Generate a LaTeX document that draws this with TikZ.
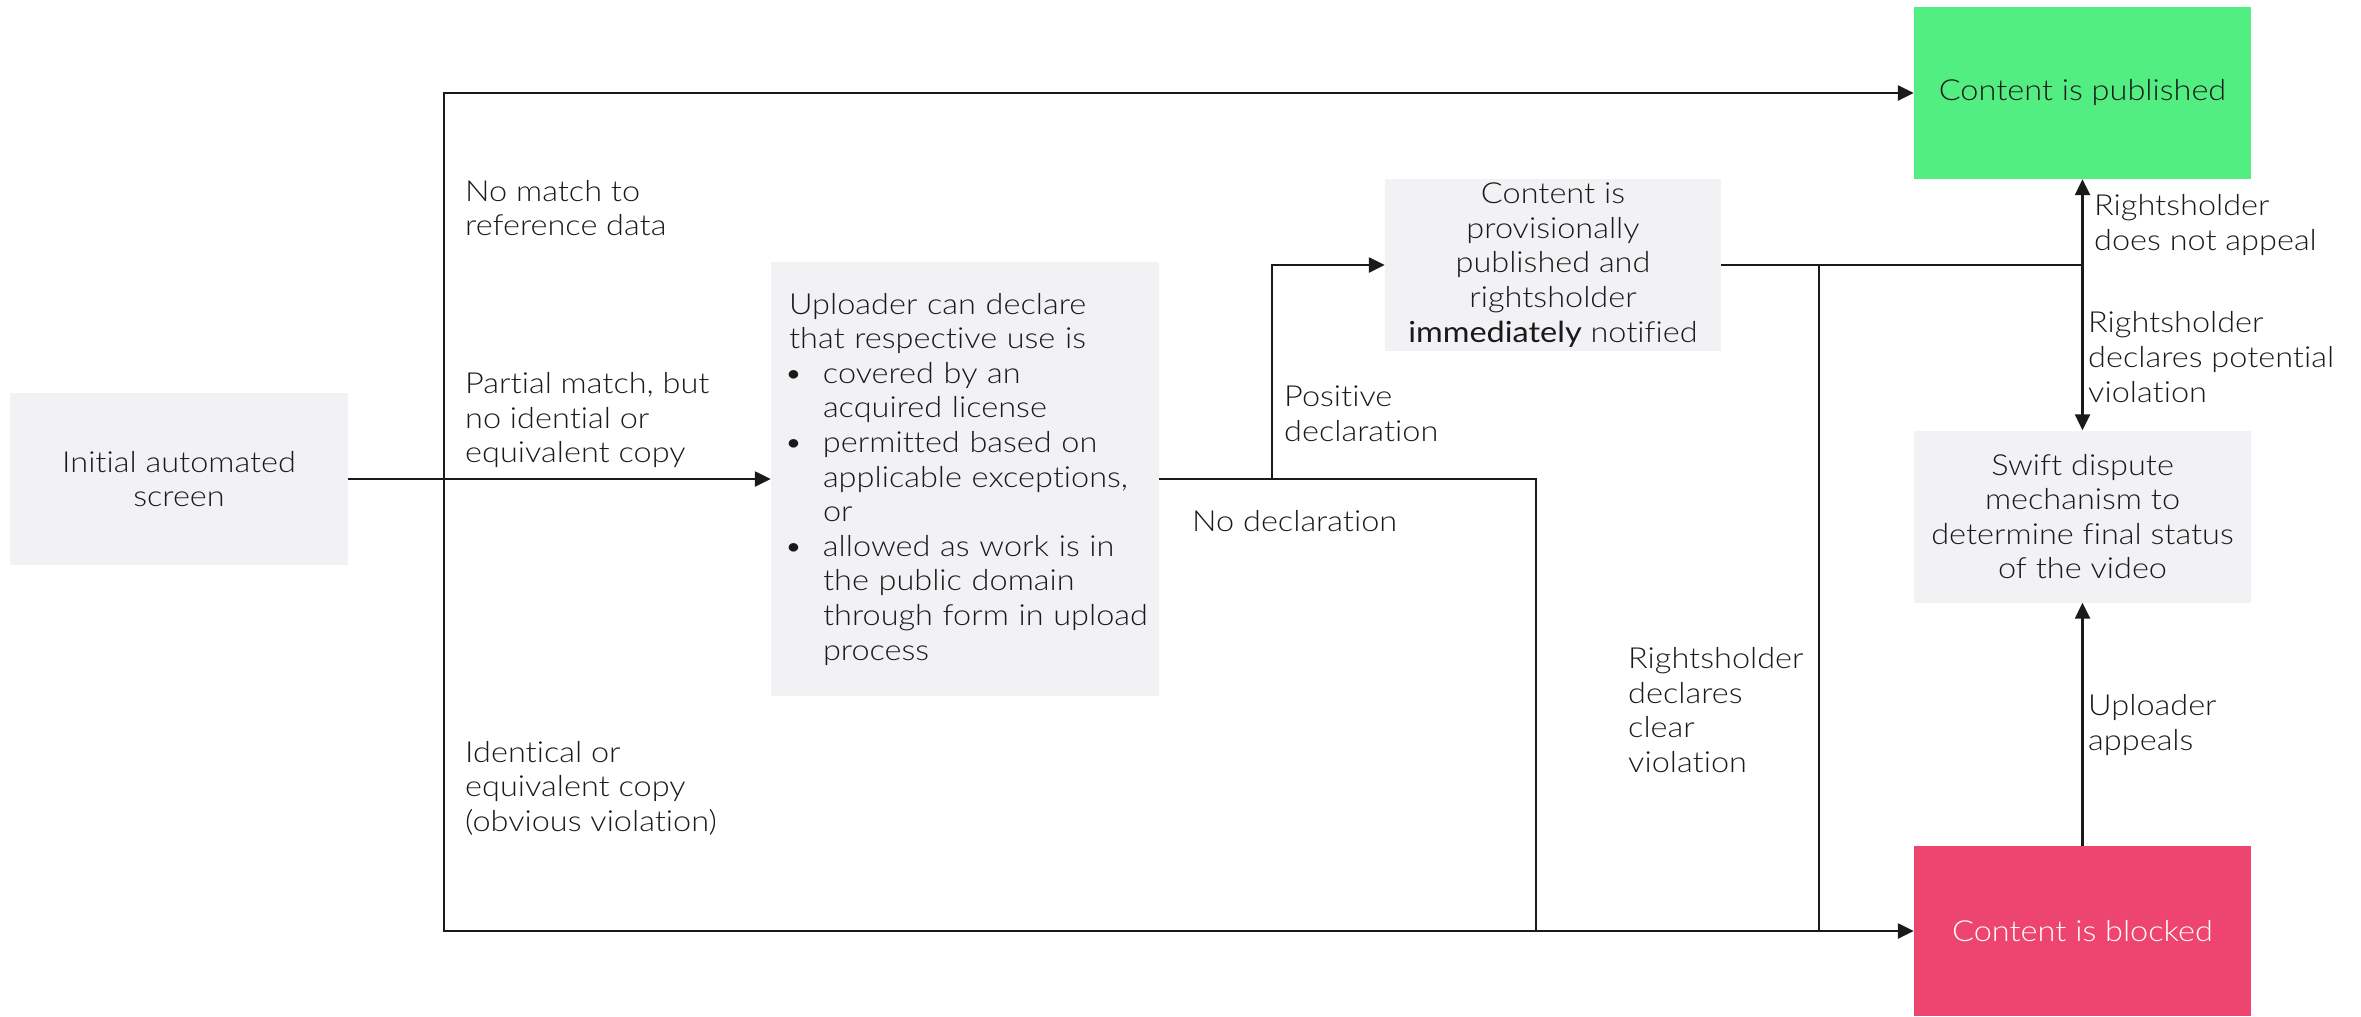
\documentclass[tikz,border=0pt]{standalone}
\usepackage{fontspec}
\setmainfont{Lato Light}[BoldFont={Lato}, FakeStretch=1.12, RawFeature={-liga}]
\usetikzlibrary{arrows.meta}
\definecolor{boxgrey}{RGB}{242,241,244}
\definecolor{pubgreen}{RGB}{82,238,130}
\definecolor{blockpink}{RGB}{238,68,112}
\definecolor{ink}{RGB}{26,26,26}
\newcommand\bulitem{\makebox[44pt][l]{\hspace{5pt}\textbullet}}
\newcommand\bulcont{\hspace*{44pt}}
\begin{document}
\begin{tikzpicture}[x=1pt,y=-1pt,
  every node/.style={font=\fontsize{29}{34.6}\selectfont, text=ink},
  box/.style={fill=boxgrey, draw=none, inner sep=0pt, align=center},
  lbl/.style={anchor=west, align=left, inner sep=0pt},
  link/.style={draw=ink, line width=2.4pt},
  arr/.style={link, -{Triangle[length=16pt,width=15pt]}}]
\useasboundingbox (0,0) rectangle (2361,1017);

% boxes
\node[box, minimum width=338pt, minimum height=172pt] (init) at (179,479)
  {Initial automated\\screen};
\node[box, minimum width=388pt, minimum height=434pt, text width=372pt,
  inner xsep=8pt, align=left] (upl) at (965,479)
  {\hspace*{10pt}Uploader can declare\\
   \hspace*{10pt}that respective use is\\
   \bulitem covered by an\\
   \bulcont acquired license\\
   \bulitem permitted based on\\
   \bulcont applicable exceptions,\\
   \bulcont or\\
   \bulitem allowed as work is in\\
   \bulcont the public domain\\
   \bulcont through form in upload\\
   \bulcont process};
\node[box, minimum width=336pt, minimum height=172pt] (prov) at (1553,265)
  {Content is\\provisionally\\published and\\rightsholder\\\textbf{immediately} notified};
\node[box, fill=pubgreen, minimum width=337pt, minimum height=172pt] (pub) at (2082.5,93)
  {Content is published};
\node[box, minimum width=337pt, minimum height=172pt] (swift) at (2082.5,516.5)
  {Swift dispute\\mechanism to\\determine final status\\of the video};
\node[box, fill=blockpink, text=white, minimum width=337pt, minimum height=170pt] (block) at (2082.5,931)
  {Content is blocked};

% junction points
\coordinate (trunk) at (444,479);
\coordinate (split) at (1272,479);
\coordinate (nodecl) at (1536,931);
\coordinate (clear) at (1819,931);
\coordinate (fork) at (2082.5,265);

% connectors
\draw[arr] (init.east) -- (upl.west);
\draw[arr] (trunk) |- (pub.west);
\draw[arr] (trunk) |- (block.west);
\draw[link] (upl.east) -| (nodecl);
\draw[arr] (split) |- (prov.west);
\draw[link] (prov.east) -- (fork);
\draw[link] (prov.east -| clear) -- (clear);
\draw[arr] (fork) -- (pub.south);
\draw[arr] (fork) -- (swift.north);
\draw[arr] (block.north) -- (swift.south);

% labels
\node[lbl] (lnomatch) at (465,208) {No match to\\reference data};
\node[lbl] (lpartial) at (465,420) {Partial match, but\\no idential or\\equivalent copy};
\node[lbl] (lident) at (465,788) {Identical or\\equivalent copy\\(obvious violation)};
\node[lbl] (lpos) at (1284,414) {Positive\\declaration};
\node[lbl] (lnodecl) at (1192,521) {No declaration};
\node[lbl] (lclear) at (1628,710) {Rightsholder\\declares\\clear\\violation};
\node[lbl] (lnoapp) at (2094,225) {Rightsholder\\does not appeal};
\node[lbl] (lpot) at (2088,357) {Rightsholder\\declares potential\\violation};
\node[lbl] (lapp) at (2088,725) {Uploader\\appeals};
\end{tikzpicture}
\end{document}
